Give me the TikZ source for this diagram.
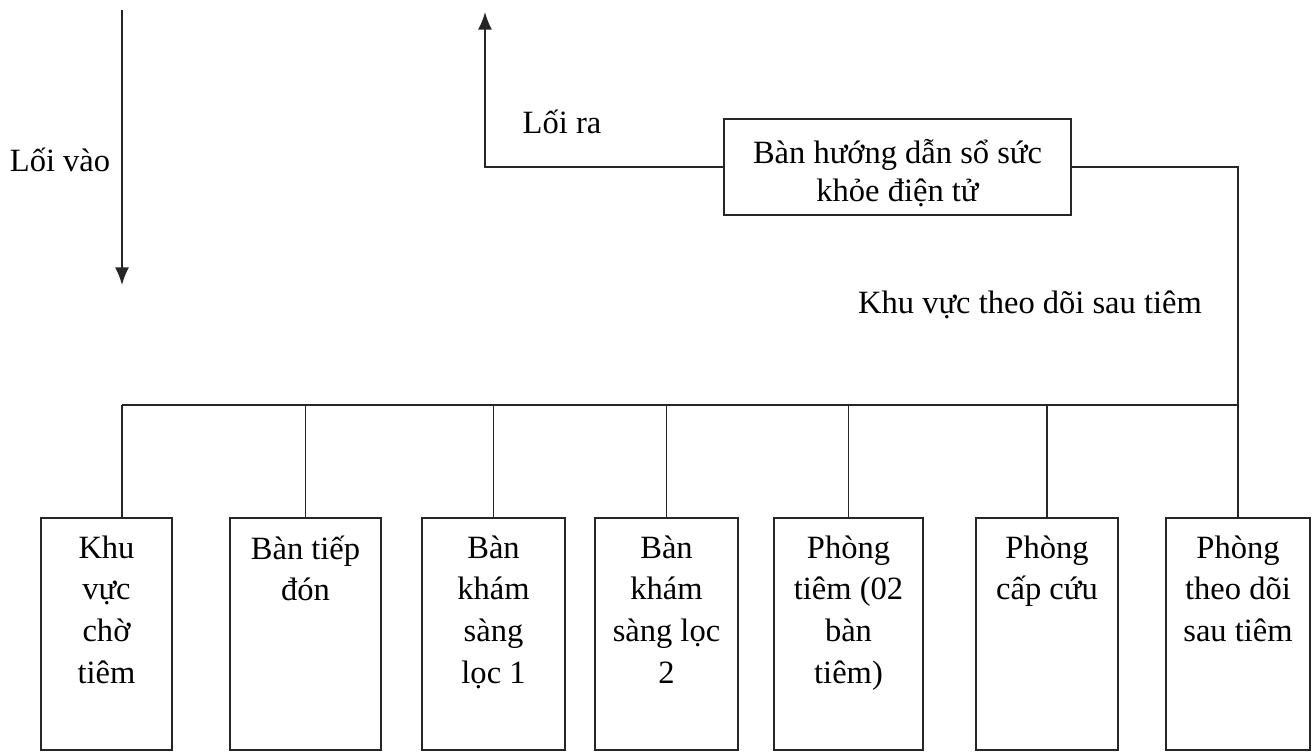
\documentclass[tikz,border=0pt]{standalone}
\usepackage{fontspec}
\setmainfont{Liberation Serif}
\usetikzlibrary{positioning, calc, arrows.meta}

\begin{document}
\begin{tikzpicture}[
% Define custom styles for rooms, texts and lines
    room/.style={
        draw,
        rectangle,
        line width=1pt,
        minimum height=4.64cm,
        inner sep=0pt
        },
    roomtext/.style={
        align=center,
        anchor=north,
        inner sep=0pt,
        execute at begin node=\strut
        },
    sign/.style={
        inner sep=0pt
        },
    wire/.style={
        line width=1pt
        },
    font=\fontsize{18.5}{23.8}\selectfont,
    >={Latex[length=10pt,width=8pt]},
    draw=black!85
]
\useasboundingbox (0,0) rectangle (26.28,-15.04);

% desk at the top
\node[draw, line width=1pt, minimum width=6.94cm, minimum height=1.92cm, inner sep=0pt] (desk) at (17.95,-3.34) {};
\node[sign, align=center, font=\fontsize{18.5}{22}\selectfont] (deskText) at ($(desk.center)+(0,-0.12)$) {Bàn hướng dẫn sổ sức\\khỏe điện tử};

% rooms at the bottom
\node[room, minimum width=2.62cm] (r1) at (2.13,-12.68) {};
\node[room, minimum width=3.02cm] (r2) at (6.11,-12.68) {};
\node[room, minimum width=2.86cm] (r3) at (9.87,-12.68) {};
\node[room, minimum width=2.86cm] (r4) at (13.33,-12.68) {};
\node[room, minimum width=2.98cm] (r5) at (16.97,-12.68) {};
\node[room, minimum width=2.84cm] (r6) at (20.94,-12.68) {};
\node[room, minimum width=2.88cm] (r7) at (24.76,-12.68) {};

\node[roomtext] (t1) at ($(r1.north)+(0,-0.36)$) {Khu\\vực\\chờ\\tiêm};
\node[roomtext] (t2) at ($(r2.north)+(0,-0.36)$) {Bàn tiếp\\đón};
\node[roomtext] (t3) at ($(r3.north)+(0,-0.36)$) {Bàn\\khám\\sàng\\lọc 1};
\node[roomtext] (t4) at ($(r4.north)+(0,-0.36)$) {Bàn\\khám\\sàng lọc\\2};
\node[roomtext] (t5) at ($(r5.north)+(0,-0.36)$) {Phòng\\tiêm (02\\bàn\\tiêm)};
\node[roomtext] (t6) at ($(r6.north)+(0,-0.36)$) {Phòng\\cấp cứu};
\node[roomtext] (t7) at ($(r7.north)+(0,-0.36)$) {Phòng\\theo dõi\\sau tiêm};

% entry and exit
\coordinate (inTop) at (2.44,-0.2);
\coordinate (inEnd) at (2.44,-5.7);
\coordinate (outTop) at (9.70,-0.24);
\draw[wire, ->] (inTop) -- (inEnd);
\draw[wire, ->] (desk.west) -| (outTop);

\node[sign] (entry) at (1.2,-3.2) {Lối vào};
\node[sign] (exit) at (11.24,-2.44) {Lối ra};
\node[sign] (watch) at (20.6,-6.1) {Khu vực theo dõi sau tiêm};

% bus line
\coordinate (busL) at (2.44,-8.1);
\coordinate (busR) at (24.76,-8.1);
\draw[wire] (desk.east) -| (r7.north);
\draw[wire] (busL) -- (busR);
\draw[wire] (busL) -- (busL |- r1.north);
\foreach \r in {r2,r3,r4,r5,r6}
    \draw[wire] (\r.north |- busL) -- (\r.north);

\end{tikzpicture}
\end{document}
